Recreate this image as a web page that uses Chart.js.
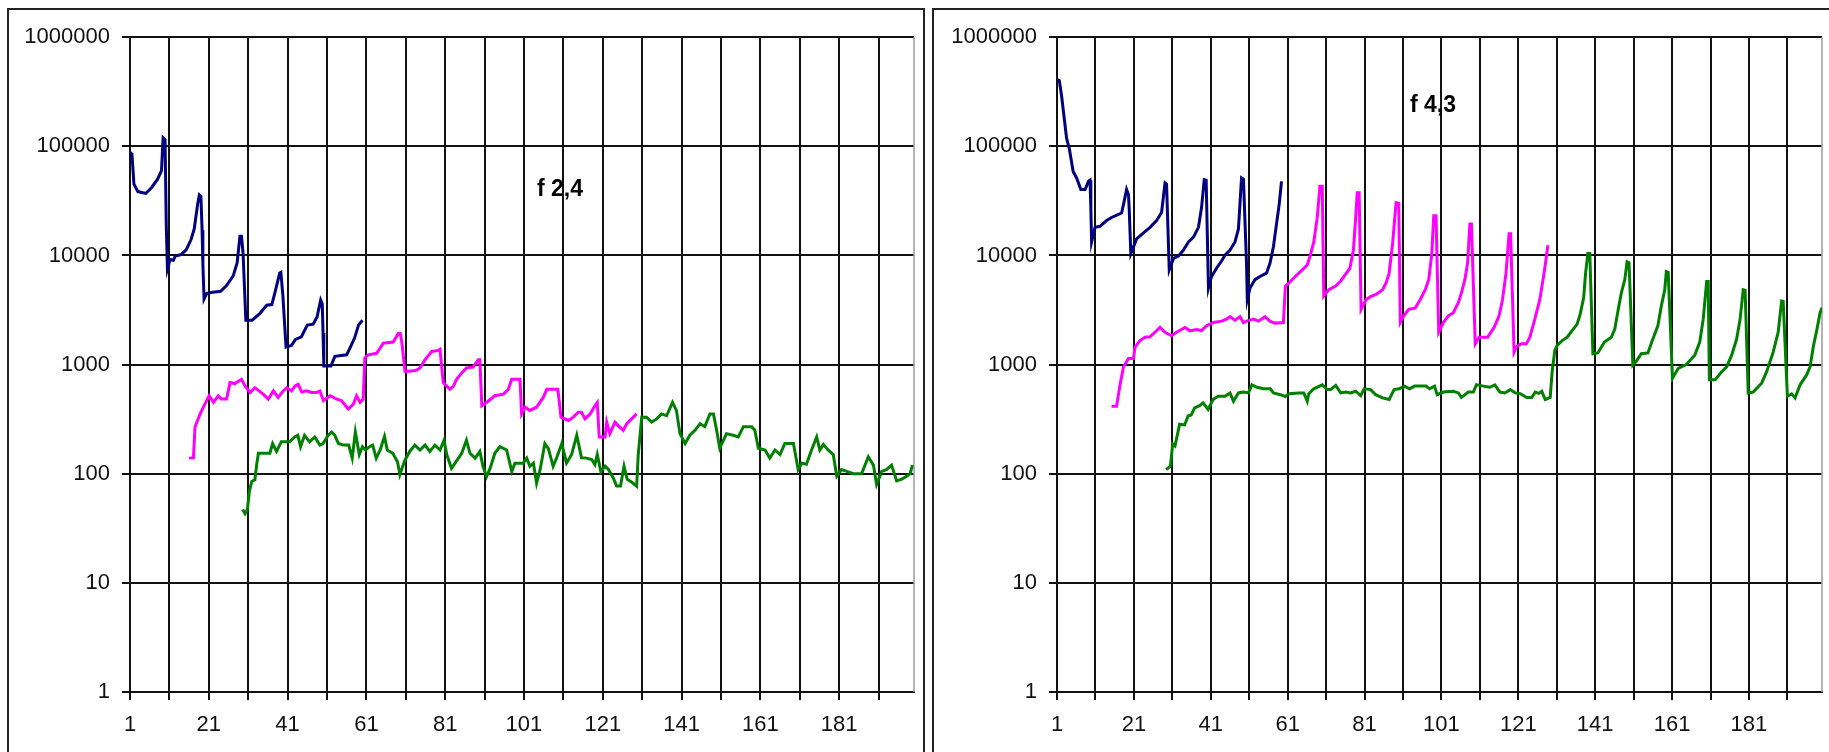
<!DOCTYPE html>
<html>
<head>
<meta charset="utf-8">
<script src="https://cdn.jsdelivr.net/npm/chart.js@4.4.1/dist/chart.umd.min.js"></script>
<style>
  html, body { margin: 0; padding: 0; background: #fff; overflow: hidden; }
  body { position: relative; width: 1829px; height: 752px; }
  .panel { position: absolute; border: 2px solid #222; box-sizing: border-box; }
  #panelLeft { left: 7px; top: 8px; width: 918px; height: 800px; }
  #panelRight { left: 932px; top: 8px; width: 960px; height: 800px; }
  canvas { position: absolute; }
  #chartLeft { left: 10px; top: 12px; }
  #chartRight { left: 936px; top: 12px; }
</style>
</head>
<body>
<div class="panel" id="panelLeft"></div>
<div class="panel" id="panelRight"></div>
<canvas id="chartLeft" width="910" height="740"></canvas>
<canvas id="chartRight" width="893" height="740"></canvas>
<script>
// grid positions on both axes
const xGridValues = [1, 11, 21, 31, 41, 51, 61, 71, 81, 91, 101, 111, 121, 131, 141, 151, 161, 171, 181, 191];
const yGridValues = [1, 10, 100, 1000, 10000, 100000, 1000000];

// f 2,4 : [step, value]
const blueF24 = [
  [1, 88000], [1.5, 85000], [2, 45000], [3, 38500], [5, 37000], [6.5, 42000], [8, 50000], [9, 60000],
  [9.4, 120000], [9.9, 115000], [10.2, 19500], [10.5, 7500], [11.2, 9200], [12, 9000], [12.5, 9900],
  [14, 10200], [15.3, 11300], [16.5, 14000], [17.3, 17500], [18.2, 30000], [18.6, 36000], [19, 35000],
  [19.3, 17000], [19.5, 8300], [19.8, 4000], [20.5, 4500], [22, 4600], [24, 4700], [25.5, 5300],
  [27.2, 6500], [28.2, 8600], [28.9, 15000], [29.3, 15000], [29.7, 10500], [30.4, 2550], [32, 2550],
  [34, 2950], [35.7, 3500], [37, 3550], [37.8, 4600], [39, 6900], [39.3, 7000], [39.8, 4300],
  [40.6, 1450], [42, 1500], [43, 1700], [44.5, 1800], [46, 2300], [47.5, 2350], [48.5, 2750],
  [49.4, 3900], [49.8, 3600], [50, 1950], [50.2, 970], [52, 970], [53, 1190], [56, 1230], [57, 1460],
  [58, 1750], [59, 2300], [60, 2550]
];
const pinkF24 = [
  [16, 139], [17.1, 140], [17.5, 268], [18.8, 353], [20, 435], [21.1, 518], [22.2, 451], [23.4, 518],
  [24.2, 483], [25.5, 483], [26.4, 684], [27.6, 670], [29.3, 733], [30.2, 637], [31.5, 555], [32.7, 615],
  [34.8, 536], [36.1, 483], [37.4, 574], [38.6, 500], [39.9, 574], [40.8, 615], [42, 574], [42.9, 637],
  [43.7, 660], [44.6, 560], [45.8, 574], [47.1, 555], [48.3, 555], [49.2, 574], [50.1, 467], [51.8, 518],
  [53.5, 483], [54.7, 467], [56.4, 392], [57.7, 435], [58.5, 518], [59.4, 450], [60.2, 483], [60.6, 1150],
  [61.5, 1230], [63.6, 1270], [65.3, 1570], [67.8, 1610], [69.1, 1930], [69.6, 1930], [70, 1600],
  [70.8, 870], [72.1, 870], [73.8, 890], [74.6, 930], [75.9, 1110], [77.6, 1320], [79.3, 1350],
  [79.7, 1380], [80.5, 684], [82.2, 594], [83.1, 637], [83.9, 733], [85.2, 840], [86.4, 933], [88.1, 950],
  [89.4, 1110], [89.8, 1110], [90.3, 420], [91.5, 450], [93.6, 518], [95.8, 536], [97, 590], [97.9, 733],
  [100, 733], [100.4, 353], [101.3, 407], [102.5, 380], [104.2, 407], [105.9, 500], [106.8, 594],
  [109.6, 594], [110.4, 330], [112.3, 308], [113.5, 330], [114.8, 366], [115.6, 366], [116.5, 318],
  [117.8, 353], [119, 420], [119.6, 450], [120.1, 217], [121.6, 217], [122, 297], [122.8, 233],
  [124.1, 297], [124.9, 276], [126.2, 250], [127.1, 287], [128.3, 318], [129.6, 353]
];
const greenF24 = [
  [29.6, 47], [30.2, 43], [30.8, 47], [31.3, 69], [31.9, 85], [32.7, 88], [33.2, 125], [33.6, 154],
  [35.5, 154], [36.5, 154], [37.2, 189], [38.2, 160], [39.4, 196], [41.5, 196], [42.8, 217], [43.6, 225],
  [44.3, 177], [45.3, 225], [46.6, 196], [47.9, 217], [49.2, 183], [50, 189], [51.3, 225], [52.2, 241],
  [53, 225], [53.9, 189], [55.2, 183], [56.5, 183], [57.4, 139], [58.2, 241], [59.2, 150], [60, 177],
  [60.8, 165], [61.8, 177], [62.6, 183], [63.5, 139], [64.5, 165], [65.6, 220], [66.3, 165], [67.7, 154],
  [68.9, 129], [69.5, 98], [70.7, 131], [72, 160], [73.3, 183], [74.6, 165], [75.9, 183], [77.1, 160],
  [78.4, 183], [79.7, 165], [80.7, 203], [81.4, 150], [82.6, 112], [83.9, 131], [85.2, 154], [86.4, 203],
  [87.3, 154], [88.6, 139], [89.8, 160], [90.6, 117], [91.5, 94], [92.4, 112], [93.6, 154], [94.9, 177],
  [96.6, 165], [97.9, 105], [98.7, 125], [100.8, 125], [101.7, 139], [102.5, 117], [103.4, 125],
  [104.2, 82], [105.1, 109], [106.3, 189], [107.2, 170], [108.4, 117], [109.3, 140], [110.6, 189],
  [111.8, 125], [113.1, 150], [114.4, 225], [115.6, 140], [116.9, 139], [118.2, 135], [119, 121],
  [119.6, 150], [120.5, 105], [121.6, 117], [122.4, 110], [123.7, 91], [124.5, 77], [125.5, 77],
  [126.4, 117], [127.2, 89], [128.3, 84], [129.6, 77], [130, 149], [130.9, 330], [132.1, 330],
  [133.4, 297], [134.7, 318], [135.9, 353], [137.2, 340], [138.7, 451], [139.7, 380], [140.6, 233],
  [141.9, 189], [143.1, 225], [144.4, 250], [145.7, 287], [146.9, 270], [148.2, 353], [149.1, 353],
  [149.9, 250], [150.7, 171], [152.4, 233], [154.1, 225], [155.4, 217], [156.7, 270], [158.8, 270],
  [159.6, 250], [160.5, 171], [162.2, 165], [163.4, 139], [164.7, 165], [166, 150], [167.2, 189],
  [169.4, 189], [170.6, 109], [171.5, 125], [172.7, 122], [174, 165], [175.3, 217], [176.1, 165],
  [177, 185], [178.2, 165], [179.5, 150], [180.4, 95], [181.6, 109], [182.9, 105], [184.6, 100],
  [186.7, 100], [188.4, 143], [189.7, 120], [190.5, 80], [191.8, 105], [193, 109], [194.3, 120],
  [195.6, 86], [196.9, 89], [198.1, 95], [199, 100], [199.6, 120]
];

// f 4,3 : [step, value]
const blueF43 = [
  [1.2, 409000], [1.6, 400000], [2.2, 289000], [2.9, 178000], [3.5, 118000], [4.2, 95500], [5.2, 58900],
  [6.1, 51300], [7.2, 40200], [8.3, 40200], [9.2, 47800], [9.6, 49000], [9.8, 27500], [10, 13300],
  [10.9, 18100], [12.2, 18500], [13.9, 20900], [15.2, 22300], [17, 23800], [17.8, 24500], [18.3, 29400],
  [19.1, 40200], [19.6, 36000], [19.8, 25600], [20.2, 10400], [21.7, 14200], [23.5, 16100], [25.2, 18100],
  [26.9, 20900], [28.2, 24800], [29.1, 46200], [29.5, 45000], [30.2, 7380], [31.3, 9400], [32.6, 9900],
  [33.9, 11200], [35.2, 13300], [36.5, 14700], [37.8, 18100], [38.6, 27500], [39.3, 49500], [39.8, 49000],
  [40.4, 5030], [41.2, 6420], [42.5, 7640], [43.8, 8900], [44.7, 10070], [46, 11200], [47.3, 13300],
  [48.2, 17500], [49, 51300], [49.5, 50000], [50.3, 8470], [50.5, 3950], [51.2, 5030], [52.5, 6000],
  [53.8, 6420], [55.5, 6880], [56.4, 8470], [57.3, 12000], [58.1, 19400], [58.8, 29400], [59.4, 47800]
];
const pinkF43 = [
  [15.2, 416], [16.5, 416], [17.4, 653], [18.3, 955], [19.6, 1140], [20.9, 1140], [21.3, 1450],
  [22.6, 1660], [23.9, 1780], [25.2, 1800], [26.5, 1980], [27.8, 2190], [29.1, 1980], [30.8, 1840],
  [32.1, 1980], [34.3, 2190], [35.6, 2040], [37.3, 2100], [38.6, 2050], [39.9, 2270], [41.7, 2430],
  [43.8, 2500], [45.1, 2610], [46, 2750], [47.3, 2550], [48.6, 2750], [49.5, 2430], [50.3, 2500],
  [52.1, 2610], [53.4, 2500], [55.1, 2750], [56.4, 2500], [57.7, 2400], [59.9, 2430], [60.4, 5210],
  [61.7, 5780], [63, 6420], [64.8, 7380], [66.1, 8180], [66.9, 10070], [67.8, 13300], [68.7, 22300],
  [69.4, 43100], [70, 43100], [70.4, 4230], [71.7, 4860], [73.4, 5210], [74.7, 5780], [76, 6670],
  [77.2, 7640], [78.1, 11170], [78.7, 22300], [79.1, 37500], [79.6, 37500], [80.1, 3210], [81.4, 3950],
  [82.7, 4230], [84, 4400], [85.7, 4860], [86.6, 5590], [87.4, 6880], [88.3, 12830], [89.2, 30500],
  [89.9, 30000], [90.3, 2430], [91.2, 2800], [92.5, 3210], [94.2, 3300], [95.5, 3950], [96.8, 4860],
  [97.7, 6000], [98.5, 10420], [99, 23100], [99.6, 23100], [100.3, 1980], [101.5, 2430], [102.8, 2800],
  [104.1, 2990], [105.4, 3690], [106.2, 4540], [107.1, 6000], [107.8, 8470], [108.4, 19400],
  [108.8, 19400], [109.8, 1550], [110.8, 1780], [113, 1780], [114.7, 2190], [116, 2800], [116.9, 3950],
  [117.8, 6880], [118.6, 15800], [119, 15800], [119.9, 1300], [120.5, 1450], [121.8, 1550], [123.1, 1550],
  [124, 1780], [125.3, 2610], [126.6, 3950], [127.7, 6880], [128.3, 9730], [128.7, 12400]
];
const greenF43 = [
  [29.4, 109], [30.5, 117], [31.1, 188], [31.7, 180], [32.9, 284], [34.2, 280], [35.1, 338], [35.9, 345],
  [36.8, 402], [38.1, 420], [39, 446], [40.3, 389], [41.6, 479], [42.9, 513], [44.7, 513], [46, 550],
  [46.9, 462], [48.2, 550], [49.5, 560], [50.8, 550], [51.7, 653], [53, 620], [54.7, 600], [56.5, 600],
  [57.3, 550], [59.1, 530], [60.4, 510], [61.3, 540], [63.9, 550], [65.2, 550], [66.1, 462], [66.5, 540],
  [67.8, 600], [70, 653], [71.3, 590], [72.2, 590], [73.5, 645], [74.8, 550], [76.1, 560], [77.4, 550],
  [78.7, 570], [80, 520], [80.9, 600], [82.6, 590], [83.9, 530], [85.7, 495], [87.4, 479], [88.7, 590],
  [90, 600], [91.4, 635], [92.7, 600], [94, 635], [95.3, 635], [97, 635], [97.9, 600], [99.2, 635],
  [99.9, 530], [101.5, 560], [104.1, 570], [105.4, 550], [106.2, 500], [108, 560], [109.3, 560],
  [110.1, 653], [111.9, 635], [113.6, 620], [114.9, 653], [116.2, 560], [117.5, 550], [118.9, 590],
  [120.2, 550], [121.5, 540], [123.2, 500], [124.5, 500], [125.4, 560], [126.3, 545], [127.1, 570],
  [128, 478], [129.3, 500], [129.8, 861], [130.5, 1350], [131.1, 1500], [132.4, 1660], [133.7, 1780],
  [135, 2050], [136.3, 2350], [137.1, 2900], [138, 4090], [138.5, 6880], [139.1, 10420], [139.6, 10420],
  [140.4, 1260], [141.7, 1280], [143.4, 1610], [145.2, 1780], [146.1, 2120], [147, 3210], [147.8, 4540],
  [148.7, 6000], [149.3, 8770], [149.8, 8600], [150.8, 990], [151.6, 1060], [153, 1260], [154.7, 1280],
  [156, 1720], [157.3, 2270], [158.2, 3440], [159.1, 4860], [159.5, 7120], [160, 7000], [161.1, 750],
  [162.6, 925], [164.7, 1000], [166.9, 1220], [168.2, 1610], [169.1, 2610], [170, 5780], [170.4, 5780],
  [170.7, 725], [172.2, 725], [173.9, 861], [175.2, 955], [176.5, 1220], [177.8, 1720], [178.7, 2610],
  [179.5, 4860], [180, 4800], [180.8, 550], [182.1, 560], [184.3, 676], [185.6, 861], [187.3, 1300],
  [188.6, 1980], [189.5, 3820], [189.9, 3800], [191, 513], [192.1, 540], [193, 495], [194.3, 653],
  [196, 804], [196.9, 955], [197.8, 1500], [198.7, 2120], [199.5, 2990], [200, 3320]
];

// label text and its anchor in data units (left edge, vertical middle)
const noteF24 = { text: 'f 2,4', x: 104.3, y: 39800 };
const noteF43 = { text: 'f 4,3', x: 92.8, y: 233600 };

const lineColors = ['#000080', '#ff00ff', '#008000'];

Chart.defaults.font.family = '"Liberation Sans", Arial, sans-serif';
Chart.defaults.font.size = 22;
Chart.defaults.color = '#111';

// bold caption inside the plot, placed with the chart's own scales
const noteLabel = {
  id: 'noteLabel',
  afterDatasetsDraw(chart, args, opts) {
    if (!opts || !opts.text) return;
    const { ctx, scales } = chart;
    ctx.save();
    ctx.font = 'bold 23px "Liberation Sans", Arial, sans-serif';
    ctx.fillStyle = '#000';
    ctx.textAlign = 'left';
    ctx.textBaseline = 'middle';
    ctx.fillText(opts.text, scales.x.getPixelForValue(opts.x), scales.y.getPixelForValue(opts.y));
    ctx.restore();
  }
};

// light grey right edge of the plot area
const plotEdge = {
  id: 'plotEdge',
  beforeDatasetsDraw(chart) {
    const { ctx, chartArea } = chart;
    ctx.save();
    ctx.strokeStyle = '#9a9a9a';
    ctx.lineWidth = 1.5;
    ctx.beginPath();
    ctx.moveTo(chartArea.right, chartArea.top);
    ctx.lineTo(chartArea.right, chartArea.bottom);
    ctx.stroke();
    ctx.restore();
  }
};

function makeChart(canvasId, series, note, yAxisWidth, padRight, padTop) {
  const canvas = document.getElementById(canvasId);
  const gridStyle = {
    color: '#111',
    lineWidth: 2,
    drawTicks: true,
    tickLength: 8,
    tickColor: '#111',
    tickWidth: 2
  };

  return new Chart(canvas.getContext('2d'), {
    type: 'line',
    data: {
      datasets: series.map((points, i) => ({
        data: points,
        borderColor: lineColors[i],
        borderWidth: 3,
        pointRadius: 0,
        fill: false,
        tension: 0
      }))
    },
    options: {
      responsive: false,
      animation: false,
      devicePixelRatio: 1,
      layout: { padding: { left: 0, right: padRight, top: padTop, bottom: 10 } },
      plugins: {
        legend: { display: false },
        tooltip: { enabled: false },
        noteLabel: note
      },
      scales: {
        x: {
          type: 'linear',
          min: 1,
          max: 200,
          grid: gridStyle,
          border: { display: true, color: '#111', width: 2 },
          afterBuildTicks: (scale) => { scale.ticks = xGridValues.map(v => ({ value: v })); },
          afterFit: (scale) => { scale.height = 50; },
          ticks: {
            autoSkip: false,
            maxRotation: 0,
            padding: 12,
            callback: (v) => ((v - 1) % 20 === 0 ? String(v) : '')
          }
        },
        y: {
          type: 'logarithmic',
          min: 1,
          max: 1000000,
          grid: gridStyle,
          border: { display: true, color: '#111', width: 2 },
          afterBuildTicks: (scale) => { scale.ticks = yGridValues.map(v => ({ value: v, major: true })); },
          afterFit: (scale) => { scale.width = yAxisWidth; },
          ticks: {
            autoSkip: false,
            padding: 12,
            callback: (v) => String(v)
          }
        }
      }
    },
    plugins: [plotEdge, noteLabel]
  });
}

makeChart('chartLeft', [blueF24, pinkF24, greenF24], noteF24, 120, 6, 16);
makeChart('chartRight', [blueF43, pinkF43, greenF43], noteF43, 121, 7, 15);
</script>
</body>
</html>
